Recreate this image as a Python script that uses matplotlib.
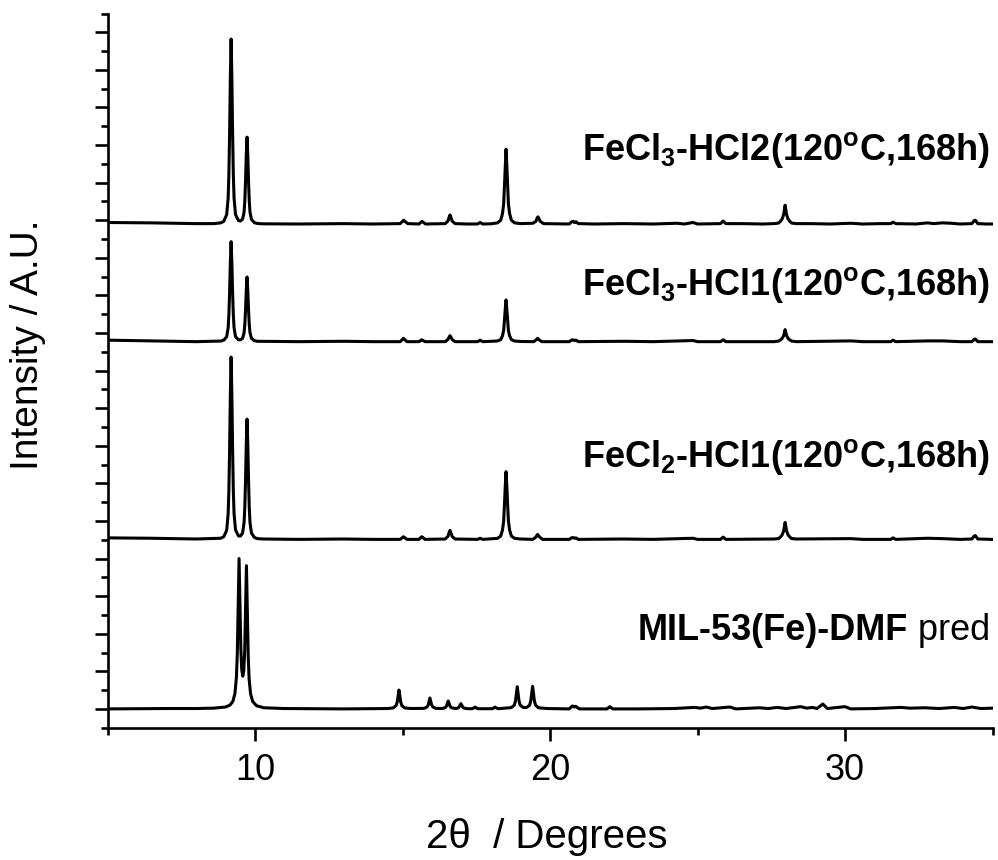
import matplotlib
matplotlib.use("Agg")
import matplotlib.pyplot as plt
from matplotlib.ticker import MultipleLocator, NullFormatter

plt.rcParams['font.family'] = ['Liberation Sans', 'DejaVu Sans']
plt.rcParams['mathtext.fontset'] = 'custom'
plt.rcParams['mathtext.rm'] = 'Liberation Sans'
plt.rcParams['mathtext.bf'] = 'Liberation Sans:bold'
plt.rcParams['mathtext.it'] = 'Liberation Sans:italic'

# ---------------- data (2theta, intensity above each trace's own baseline) ----------------
hcl2_x = [5.0, 6.5, 8.0, 8.6,
          8.84, 8.94, 9.04, 9.09, 9.115, 9.14, 9.165, 9.19, 9.215, 9.24, 9.265, 9.29, 9.34, 9.44, 9.51,
          9.58, 9.63, 9.655, 9.68, 9.705, 9.73, 9.755, 9.78, 9.805, 9.83, 9.88, 9.98, 10.08, 10.23,
          11.5, 13.0, 14.0, 14.92, 15.0, 15.04, 15.08, 15.18, 15.56, 15.63, 15.66, 15.70, 15.78,
          16.45, 16.54, 16.58, 16.61, 16.64, 16.68, 16.78, 17.2, 17.55, 17.63, 17.72,
          18.0, 18.22, 18.33, 18.39, 18.43, 18.455, 18.485, 18.51, 18.535, 18.565, 18.59, 18.63, 18.69, 18.80, 19.0,
          19.42, 19.52, 19.56, 19.59, 19.62, 19.67, 19.78, 20.65, 20.74, 20.78, 20.83, 20.88, 20.96,
          21.5, 22.5, 23.5, 24.3, 24.55, 24.85, 25.0, 25.78, 25.87, 25.96, 26.5, 27.2,
          27.6, 27.75, 27.81, 27.87, 27.92, 27.95, 27.97, 27.99, 28.02, 28.07, 28.13, 28.19, 28.35,
          28.8, 29.5, 30.2, 30.6, 31.2, 31.55, 31.63, 31.72, 32.4, 32.8, 33.0, 33.3, 33.6, 33.9,
          34.3, 34.38, 34.42, 34.5, 34.8, 35.0]
hcl2_y = [0.04, 0.03, 0.01, 0.01,
          0.03, 0.07, 0.25, 0.69, 1.33, 2.46, 3.94, 4.92, 3.94, 2.46, 1.33, 0.69, 0.25, 0.09, 0.08,
          0.13, 0.32, 0.62, 1.16, 1.85, 2.31, 1.85, 1.16, 0.62, 0.32, 0.12, 0.035, 0.014, 0.005,
          0.0, 0.01, 0.0, 0.01, 0.07, 0.10, 0.07, 0.01, 0.0, 0.05, 0.07, 0.05, 0.0,
          0.01, 0.08, 0.18, 0.24, 0.18, 0.08, 0.01, 0.0, 0.0, 0.04, 0.0,
          0.005, 0.03, 0.10, 0.28, 0.54, 1.0, 1.59, 1.99, 1.59, 1.0, 0.54, 0.28, 0.10, 0.03, 0.01,
          0.02, 0.07, 0.15, 0.19, 0.15, 0.07, 0.01, 0.0, 0.06, 0.07, 0.04, 0.06, 0.01,
          0.0, 0.01, 0.0, 0.02, 0.0, 0.04, 0.0, 0.01, 0.08, 0.01, 0.01, 0.0,
          0.01, 0.025, 0.07, 0.135, 0.25, 0.40, 0.50, 0.40, 0.25, 0.135, 0.07, 0.025, 0.01,
          0.01, 0.0, 0.02, 0.0, 0.01, 0.01, 0.05, 0.01, 0.0, 0.03, 0.01, 0.03, 0.02, 0.0,
          0.01, 0.09, 0.10, 0.01, 0.0, 0.0]

fe3_hcl1_x = [5.0, 6.5, 8.0,
              8.84, 8.94, 9.04, 9.09, 9.115, 9.14, 9.165, 9.19, 9.215, 9.24, 9.265, 9.29, 9.34, 9.44, 9.51,
              9.58, 9.63, 9.655, 9.68, 9.705, 9.73, 9.755, 9.78, 9.805, 9.83, 9.88, 9.98, 10.08,
              11.5, 13.0, 14.0, 14.92, 15.0, 15.03, 15.07, 15.15, 15.56, 15.63, 15.65, 15.68, 15.76,
              16.45, 16.54, 16.58, 16.61, 16.64, 16.68, 16.78, 17.55, 17.63, 17.72,
              18.22, 18.33, 18.39, 18.43, 18.455, 18.485, 18.51, 18.535, 18.565, 18.59, 18.63, 18.69, 18.80, 19.0,
              19.45, 19.53, 19.58, 19.63, 19.72, 20.65, 20.73, 20.77, 20.83, 20.88, 20.96,
              22.5, 23.5, 24.85, 25.0, 25.78, 25.87, 25.96,
              27.6, 27.75, 27.81, 27.87, 27.92, 27.95, 27.97, 27.99, 28.02, 28.07, 28.13, 28.19, 28.35,
              30.2, 30.6, 31.55, 31.63, 31.72, 32.8, 33.3, 33.9, 34.3, 34.38, 34.42, 34.5, 35.0]
fe3_hcl1_y = [0.04, 0.02, 0.0,
              0.016, 0.04, 0.13, 0.37, 0.72, 1.33, 2.13, 2.66, 2.13, 1.33, 0.72, 0.37, 0.13, 0.05, 0.05,
              0.09, 0.24, 0.46, 0.86, 1.38, 1.72, 1.38, 0.86, 0.46, 0.24, 0.09, 0.026, 0.01,
              0.0, 0.01, 0.0, 0.0, 0.06, 0.09, 0.06, 0.0, 0.0, 0.04, 0.05, 0.04, 0.0,
              0.0, 0.06, 0.12, 0.16, 0.12, 0.06, 0.0, 0.0, 0.04, 0.0,
              0.017, 0.056, 0.156, 0.30, 0.56, 0.89, 1.11, 0.89, 0.56, 0.30, 0.156, 0.056, 0.017, 0.005,
              0.0, 0.05, 0.09, 0.05, 0.0, 0.0, 0.04, 0.05, 0.03, 0.04, 0.0,
              0.01, 0.0, 0.03, 0.0, 0.0, 0.05, 0.0,
              0.0, 0.016, 0.045, 0.086, 0.16, 0.256, 0.32, 0.256, 0.16, 0.086, 0.045, 0.016, 0.0,
              0.02, 0.0, 0.0, 0.04, 0.0, 0.02, 0.02, 0.0, 0.0, 0.06, 0.07, 0.0, 0.0]

fe2_hcl1_x = [5.0, 6.5, 8.0,
              8.84, 8.94, 9.04, 9.09, 9.115, 9.14, 9.165, 9.19, 9.215, 9.24, 9.265, 9.29, 9.34, 9.44, 9.51,
              9.58, 9.63, 9.655, 9.68, 9.705, 9.73, 9.755, 9.78, 9.805, 9.83, 9.88, 9.98, 10.08, 10.3,
              11.5, 13.0, 14.0, 14.92, 15.0, 15.03, 15.07, 15.15, 15.56, 15.62, 15.65, 15.69, 15.76,
              16.45, 16.54, 16.58, 16.61, 16.64, 16.68, 16.78, 17.55, 17.63, 17.72,
              18.22, 18.33, 18.39, 18.43, 18.455, 18.485, 18.51, 18.535, 18.565, 18.59, 18.63, 18.69, 18.80, 19.0,
              19.42, 19.52, 19.55, 19.58, 19.61, 19.65, 19.75, 20.65, 20.73, 20.77, 20.83, 20.88, 20.96,
              22.5, 23.5, 24.85, 25.0, 25.78, 25.87, 25.96,
              27.6, 27.75, 27.81, 27.87, 27.92, 27.95, 27.97, 27.99, 28.02, 28.07, 28.13, 28.19, 28.35,
              30.2, 30.6, 31.55, 31.63, 31.72, 32.8, 33.3, 33.9, 34.3, 34.38, 34.42, 34.5, 35.0]
fe2_hcl1_y = [0.04, 0.03, 0.01,
              0.03, 0.07, 0.24, 0.68, 1.31, 2.43, 3.88, 4.85, 3.88, 2.43, 1.31, 0.68, 0.25, 0.09, 0.09,
              0.17, 0.45, 0.86, 1.6, 2.56, 3.2, 2.56, 1.6, 0.86, 0.45, 0.17, 0.05, 0.02, 0.01,
              0.0, 0.01, 0.0, 0.0, 0.05, 0.07, 0.05, 0.0, 0.0, 0.05, 0.07, 0.05, 0.0,
              0.01, 0.08, 0.18, 0.24, 0.18, 0.08, 0.01, 0.0, 0.03, 0.0,
              0.027, 0.09, 0.25, 0.49, 0.9, 1.44, 1.8, 1.44, 0.9, 0.49, 0.25, 0.09, 0.027, 0.01,
              0.0, 0.06, 0.10, 0.13, 0.10, 0.06, 0.0, 0.0, 0.04, 0.05, 0.03, 0.04, 0.0,
              0.01, 0.0, 0.03, 0.0, 0.0, 0.06, 0.0,
              0.01, 0.022, 0.063, 0.12, 0.225, 0.36, 0.45, 0.36, 0.225, 0.12, 0.063, 0.022, 0.01,
              0.02, 0.0, 0.0, 0.04, 0.0, 0.03, 0.02, 0.0, 0.01, 0.09, 0.10, 0.01, 0.0]

pred_x = [5.0, 7.0, 8.0, 8.6, 9.0, 9.15, 9.25, 9.32, 9.37, 9.40, 9.43, 9.46, 9.49, 9.52, 9.55, 9.585,
          9.62, 9.65, 9.68, 9.71, 9.74, 9.77, 9.80, 9.85, 9.92, 10.05, 10.3, 11.0, 13.0, 14.5,
          14.68, 14.78, 14.82, 14.85, 14.88, 14.91, 14.94, 14.98, 15.08, 15.3,
          15.73, 15.83, 15.87, 15.90, 15.93, 15.96, 15.99, 16.03, 16.13,
          16.35, 16.45, 16.49, 16.52, 16.55, 16.58, 16.61, 16.65, 16.75,
          16.82, 16.88, 16.92, 16.95, 16.98, 17.01, 17.04, 17.08, 17.18,
          17.36, 17.43, 17.46, 17.49, 17.56, 18.04, 18.11, 18.14, 18.17, 18.24,
          18.69, 18.79, 18.83, 18.86, 18.89, 18.92, 18.95, 18.99, 19.09, 19.15, 19.21,
          19.31, 19.35, 19.38, 19.41, 19.44, 19.47, 19.51, 19.61, 19.9,
          20.65, 20.72, 20.76, 20.82, 20.87, 20.92, 21.0, 21.93, 22.0, 22.03, 22.06, 22.13, 23.0,
          24.2, 24.9, 25.1, 25.3, 25.5, 26.1, 26.3, 27.1, 27.4, 27.7, 28.0, 28.5, 28.7, 28.9, 29.05,
          29.25, 29.4, 30.0, 30.2, 31.0, 31.9, 32.2, 32.7, 33.2, 33.7, 34.0, 34.3, 34.6, 35.0]
pred_y = [0.0, 0.01, 0.01, 0.02, 0.05, 0.10, 0.20, 0.41, 0.84, 1.47, 2.78, 4.0, 2.83, 1.6, 1.05, 0.87,
          1.02, 1.53, 2.71, 3.81, 2.65, 1.41, 0.80, 0.40, 0.20, 0.085, 0.03, 0.01, 0.0, 0.01,
          0.025, 0.085, 0.18, 0.35, 0.50, 0.35, 0.18, 0.085, 0.025, 0.01,
          0.015, 0.05, 0.10, 0.20, 0.29, 0.20, 0.10, 0.05, 0.015,
          0.01, 0.035, 0.075, 0.15, 0.21, 0.15, 0.075, 0.035, 0.015,
          0.012, 0.024, 0.05, 0.10, 0.14, 0.10, 0.05, 0.024, 0.007,
          0.005, 0.03, 0.05, 0.03, 0.005, 0.005, 0.03, 0.05, 0.03, 0.005,
          0.035, 0.10, 0.21, 0.41, 0.59, 0.41, 0.21, 0.10, 0.04, 0.035, 0.04,
          0.10, 0.22, 0.42, 0.60, 0.42, 0.22, 0.10, 0.03, 0.01,
          0.0, 0.05, 0.08, 0.05, 0.07, 0.04, 0.0, 0.0, 0.04, 0.06, 0.04, 0.0, 0.0,
          0.01, 0.04, 0.02, 0.05, 0.01, 0.05, 0.0, 0.03, 0.01, 0.04, 0.01, 0.06, 0.02, 0.04, 0.01,
          0.13, 0.01, 0.06, 0.0, 0.01, 0.04, 0.02, 0.03, 0.01, 0.04, 0.01, 0.05, 0.01, 0.02]

series_x = [pred_x, fe2_hcl1_x, fe3_hcl1_x, hcl2_x]
series_y = [pred_y, fe2_hcl1_y, fe3_hcl1_y, hcl2_y]
x_ticks = [10, 20, 30]

# stacking offsets (layout)
offsets = [0.0, 4.51, 9.77, 12.9]

W, H = 998, 860
fig = plt.figure(figsize=(W / 100, H / 100), dpi=100)
ax = fig.add_axes([107.5 / W, 1 - 727.7 / H, 885.0 / W, (727.7 - 13.5) / H])

for xs, ys, off in zip(series_x, series_y, offsets):
    ax.plot(xs, [v + off for v in ys], color='black', lw=2.2, solid_joinstyle='round')

ax.set_xlim(5, 35)
ax.set_ylim(-0.5, 18.5)
for s in ['top', 'right']:
    ax.spines[s].set_visible(False)
for s in ['left', 'bottom']:
    ax.spines[s].set_linewidth(1.9)

ax.xaxis.set_minor_locator(MultipleLocator(5))
ax.set_xticks(x_ticks)
ax.yaxis.set_major_locator(MultipleLocator(1))
ax.yaxis.set_minor_locator(MultipleLocator(0.5))
ax.yaxis.set_major_formatter(NullFormatter())
ax.tick_params(which='major', direction='out', length=9.5, width=1.9, labelsize=26, pad=9)
ax.tick_params(which='minor', direction='out', length=5, width=1.9)

# labels
fig.text(28 / W, 1 - 345 / H, 'Intensity / A.U.', rotation=90, ha='center', va='center', fontsize=28)
fig.text(668 / W, 1 - 848 / H, '2\u03b8  / Degrees', ha='right', va='baseline', fontsize=29)

lab_x = 990 / W
fig.text(lab_x, 1 - 160 / H, r'FeCl$_\mathbf{3}$-HCl2(120$^\mathbf{o}$C,168h)', ha='right', va='baseline',
         fontsize=26, fontweight='bold')
fig.text(lab_x, 1 - 295 / H, r'FeCl$_\mathbf{3}$-HCl1(120$^\mathbf{o}$C,168h)', ha='right', va='baseline',
         fontsize=26, fontweight='bold')
fig.text(lab_x, 1 - 467 / H, r'FeCl$_\mathbf{2}$-HCl1(120$^\mathbf{o}$C,168h)', ha='right', va='baseline',
         fontsize=26, fontweight='bold')
t_pred = fig.text(lab_x, 1 - 640 / H, ' pred', ha='right', va='baseline', fontsize=26)
fig.canvas.draw()
bb = t_pred.get_window_extent(renderer=fig.canvas.get_renderer())
fig.text(bb.x0 / W, 1 - 640 / H, 'MIL-53(Fe)-DMF', ha='right', va='baseline', fontsize=26, fontweight='bold')

fig.savefig('out.png', dpi=100)
